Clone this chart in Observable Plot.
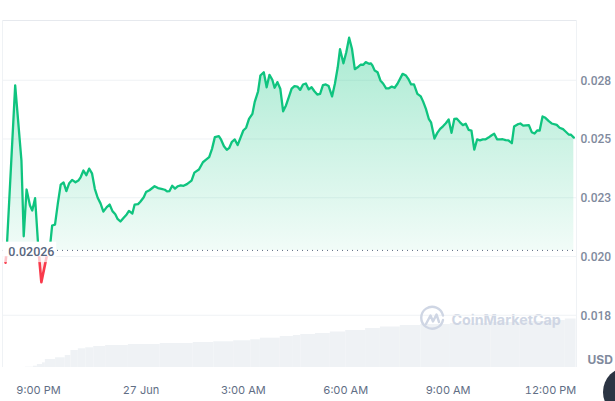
<!DOCTYPE html>
<html>
<head>
<meta charset="utf-8">
<script src="https://cdn.jsdelivr.net/npm/d3@7"></script>
<script src="https://cdn.jsdelivr.net/npm/@observablehq/plot@0.6"></script>
<style>
html,body{margin:0;padding:0;background:#fff;overflow:hidden}
#wrap{position:relative;width:615px;height:401px;overflow:hidden;font-family:Inter,sans-serif}
#wrap svg{display:block}
#logo{position:absolute;left:418px;top:304px;width:28px;height:28px}
#fab{position:absolute;left:603px;top:367px;width:50px;height:50px;border-radius:50%;background:#2b3443}
</style>
</head>
<body>
<div id="wrap"><div id="chart"></div>
<svg id="logo" viewBox="0 0 28 28" fill="none" stroke="#cfd6e4" stroke-width="2.4" stroke-linecap="round" stroke-linejoin="round">
<path d="M25 16A11 11 0 1 1 25 11.5"/>
<path d="M8 20L12.5 11.5L15 17.5L18.5 10.5L21 18"/>
</svg>
<div id="fab"></div></div>
<script>
// minutes after 9:00 PM on 26 Jun
const minutes = [-58,-56,-41,-30,-26,-21,-15,-11,-6,-1,0,5,14,17,21,24,29,34,39,44,49,54,59,65,70,74,79,84,89,94,99,104,109,114,120,125,130,135,139,144,149,155,159,165,169,175,179,185,189,195,204,210,216,222,226,230,235,240,245,250,255,261,269,274,282,289,294,300,305,310,317,321,326,331,335,340,345,350,355,360,365,370,376,380,386,390,396,401,406,411,415,420,425,430,435,440,445,450,455,460,465,470,475,480,485,490,495,500,505,510,516,521,526,530,536,541,546,551,556,561,566,571,575,581,584,587,591,596,601,606,611,616,621,626,631,640,646,650,655,660,666,672,676,681,686,690,696,701,706,711,716,721,726,731,735,741,746,751,756,761,766,771,776,781,786,791,796,801,806,812,816,821,826,832,836,842,847,852,862,867,872,877,881,886,891,897,902,911,916,922,926,932,936,941];
const prices = [.01974,.02026,.02728,.02408,.02086,.02285,.02217,.02196,.02248,.02061,.02026,.01891,.01996,.02026,.02061,.02132,.02136,.02226,.02306,.02315,.02278,.02312,.02326,.02316,.02323,.02337,.02366,.02346,.02374,.02354,.02288,.0225,.02226,.02191,.0221,.02221,.02193,.0218,.0216,.02149,.02163,.02179,.02194,.02183,.02221,.02223,.02233,.02252,.02274,.02282,.02299,.02291,.02288,.02284,.02277,.02278,.02301,.02289,.02299,.02303,.02301,.02308,.02323,.02357,.0237,.02401,.02411,.02423,.02458,.02508,.02512,.02497,.02469,.02454,.02461,.02488,.02498,.02474,.02505,.02536,.02548,.02586,.02607,.02657,.02703,.0277,.02784,.0272,.02773,.02752,.02718,.02742,.02714,.02618,.02643,.02678,.02714,.02725,.02723,.02709,.02732,.02736,.02711,.0272,.02703,.02689,.02692,.02729,.02732,.02725,.02681,.02735,.02805,.02882,.02822,.02869,.02931,.02884,.02797,.02805,.02816,.02816,.02827,.0282,.02822,.02813,.02791,.02784,.02749,.02735,.02715,.02716,.02723,.02718,.02735,.02777,.0277,.02756,.02732,.02732,.02692,.02681,.0266,.02628,.02586,.02571,.02502,.02526,.02543,.02554,.02567,.02583,.02526,.02586,.02587,.02571,.02559,.02565,.02539,.02536,.02455,.02498,.02494,.02498,.02499,.02506,.02515,.02522,.02499,.02498,.02499,.02495,.02494,.02482,.02553,.02562,.02566,.02557,.02559,.02529,.02523,.02537,.02536,.02596,.0259,.02576,.02566,.0256,.02548,.02542,.02533,.02519,.02518,.02506];
const volumeStart = [-23,-9,-2,7,12,30,47,57,70,83,97,118,158,214,272,308,343,373,390,425,448,461,487,513,540,575,601,636,672,724,795,847,900,926];
const volumeEnd = 945;
const volumeValue = [.6,2.6,6,9.4,16,19.4,24,34,37.4,39.4,42,44,46,48,50,51.4,53.4,55.4,58.6,62,64,66,68,71,74,78,81,84,86,88,90,92,94,97];
const baseline = 0.02026;
const yTicks = [0.0275,0.025,0.0225,0.02,0.0175];
const yLabels = ["0.028","0.025","0.023","0.020","0.018"];
const xTicks = [0,180,360,540,720,900];
const xLabels = ["9:00 PM","27 Jun","3:00 AM","6:00 AM","9:00 AM","12:00 PM"];
const xDomain = [-63.3,945.7];
const yDomain = [0.015277,0.030042];
const volBase = yDomain[0], volScale = 0.00002128; // volume panel sits at the foot of the price scale

const series = minutes.map((m,i)=>({m,p:prices[i]}));
const up = d => d.p>=baseline ? d.p : NaN;
const down = d => d.p<=baseline ? d.p : NaN;
const volume = volumeStart.map((s,i)=>({
  x1:s, x2:i+1<volumeStart.length?volumeStart[i+1]:volumeEnd,
  y2:volBase+volumeValue[i]*volScale
}));
const gradient = () => {
  const defs = d3.create("svg:defs");
  const g = defs.append("linearGradient").attr("id","upFill").attr("x1",0).attr("x2",0).attr("y1",0).attr("y2",1);
  g.append("stop").attr("offset","0%").attr("stop-color","#16c784").attr("stop-opacity",.37);
  g.append("stop").attr("offset","100%").attr("stop-color","#16c784").attr("stop-opacity",.06);
  return defs.node();
};
const chart = Plot.plot({
  width:615, height:401,
  marginLeft:2, marginRight:39, marginTop:20, marginBottom:34,
  style:{fontFamily:"Inter,sans-serif",background:"#fff"},
  x:{domain:xDomain},
  y:{domain:yDomain},
  marks:[
    gradient,
    Plot.rectY(volume,{x1:"x1",x2:"x2",y1:volBase,y2:"y2",fill:"#eff2f5"}),
    Plot.text(["CoinMarketCap"],{x:[822],y:[0.01728],text:d=>d,fontSize:14.3,fontWeight:700,fill:"#cfd6e4"}),
    Plot.ruleY(yTicks,{stroke:"#eff2f5"}),
    Plot.ruleY([yDomain[1]],{stroke:"#e6e9ee"}),
    Plot.ruleX([xDomain[0],xDomain[1]],{stroke:"#eff2f5"}),
    Plot.areaY(series,{x:"m",y1:baseline,y2:up,fill:"url(#upFill)"}),
    Plot.areaY(series,{x:"m",y1:baseline,y2:down,fill:"#ea3943",fillOpacity:.12}),
    Plot.ruleY([baseline],{stroke:"#58667e",strokeDasharray:"1 4",strokeWidth:1}),
    Plot.line(series,{x:"m",y:up,stroke:"#0fc47f",strokeWidth:2.3}),
    Plot.line(series,{x:"m",y:down,stroke:"#f93a4b",strokeWidth:2.6}),
    Plot.rect([baseline],{x1:-63,x2:32,y1:0.01974,y2:0.01997,fill:"#fff",fillOpacity:.7}),
    Plot.rect([baseline],{x1:-63,x2:32,y1:0.01997,y2:0.02061,fill:"#fff"}),
    Plot.text([baseline],{x:-53,y:baseline,dy:1.5,text:d=>d.toFixed(5),textAnchor:"start",fontFamily:"Roboto",fontSize:12.5,fontWeight:500,fill:"#58667e"}),
    Plot.axisX({ticks:xTicks,tickSize:0,tickPadding:19,tickFormat:d=>xLabels[xTicks.indexOf(d)],fontSize:11,fill:"#616e85",label:null}),
    Plot.axisY({anchor:"right",ticks:yTicks,tickSize:0,tickPadding:4,dy:.5,tickFormat:d=>yLabels[yTicks.indexOf(d)],fontFamily:"Roboto",fontSize:12,fontWeight:500,fill:"#808a9d",label:null}),
    Plot.text(["USD"],{x:[xDomain[1]],y:[0.01557],dx:11,text:d=>d,textAnchor:"start",fontSize:12,fontWeight:700,fill:"#808a9d"})
  ]
});
document.getElementById("chart").appendChild(chart);
</script>
</body>
</html>
